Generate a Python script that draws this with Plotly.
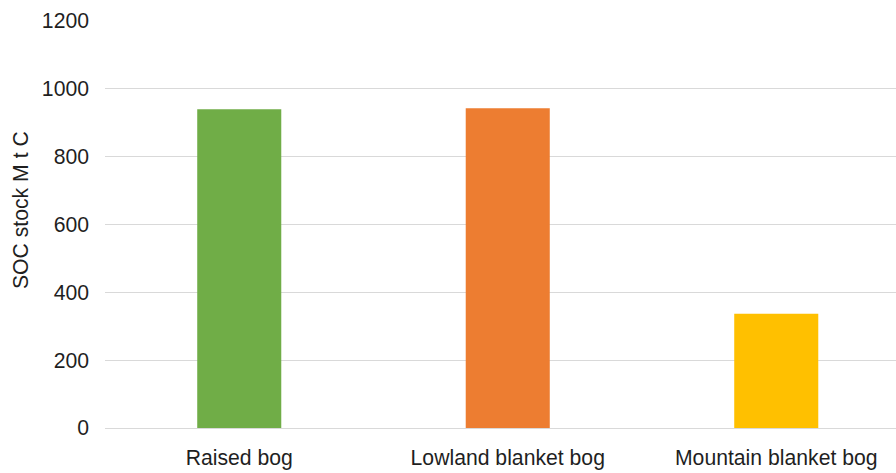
import plotly.graph_objects as go

# SOC stock by bog type
categories = ["Raised bog", "Lowland blanket bog", "Mountain blanket bog"]
soc_stock = [940, 943, 337]
bar_colors = ["#70AD47", "#ED7D31", "#FFC000"]
y_ticks = [0, 200, 400, 600, 800, 1000, 1200]

font_family = "Arial, Liberation Sans, sans-serif"
text_color = "#1f1f1f"
font_size = 21.2

plot_left, plot_top, plot_bottom = 105, 20.5, 44.5
plot_w = 896 - plot_left
plot_h = 473 - plot_top - plot_bottom
category_step_px = 268.5

fig = go.Figure(
    go.Bar(
        x=list(range(len(categories))),
        y=soc_stock,
        marker=dict(color=bar_colors, line=dict(width=0)),
        width=0.313,
        hoverinfo="skip",
    )
)

fig.update_layout(
    width=896,
    height=473,
    margin=dict(l=plot_left, r=0, t=plot_top, b=plot_bottom),
    paper_bgcolor="white",
    plot_bgcolor="white",
    showlegend=False,
    font=dict(family=font_family, size=font_size, color=text_color),
    annotations=[
        dict(
            text="SOC stock M t C",
            x=(20 - plot_left) / plot_w,
            y=(473 - plot_bottom - 210) / plot_h,
            xref="paper", yref="paper",
            showarrow=False,
            textangle=-90,
            font=dict(size=font_size, color=text_color),
            xanchor="center", yanchor="middle",
        )
    ],
)

fig.update_xaxes(
    tickmode="array",
    tickvals=list(range(len(categories))),
    ticktext=categories,
    range=[-0.5, -0.5 + plot_w / category_step_px],
    showgrid=False,
    zeroline=False,
    showline=False,
    ticks="",
    ticklabelstandoff=15,
    tickfont=dict(size=font_size, color=text_color),
)
fig.update_yaxes(
    range=[0, 1200],
    tickmode="array",
    tickvals=y_ticks,
    showgrid=True,
    gridcolor="#d9d9d9",
    gridwidth=1,
    zeroline=True,
    zerolinecolor="#d9d9d9",
    zerolinewidth=1,
    showline=False,
    ticks="",
    ticklabelstandoff=15,
    tickfont=dict(size=font_size, color=text_color),
)

fig.write_html("out.html")
